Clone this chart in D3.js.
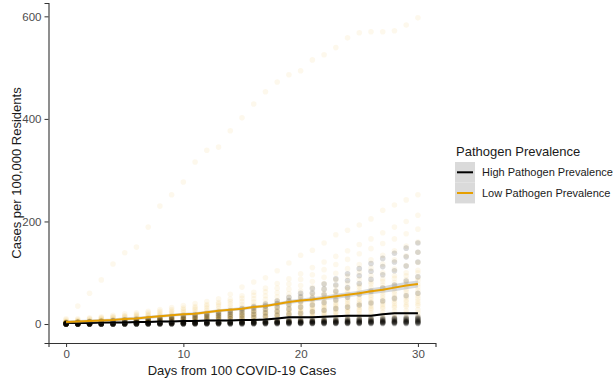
<!DOCTYPE html>
<html>
<head>
<meta charset="utf-8">
<script src="https://cdn.jsdelivr.net/npm/d3@7"></script>
<style>
  html, body { margin: 0; padding: 0; background: #fff; }
  svg { display: block; font-family: "Liberation Sans", Arial, sans-serif; }
</style>
</head>
<body>
<svg id="chart" width="613" height="381"></svg>
<script>
// Days since each county reached 100 COVID-19 cases
const days = d3.range(0, 31);

// Cumulative cases per 100,000 residents, one row per county, low pathogen prevalence
const lowCounties = [
  [10,35,60,86,117,139,150,189,230,252,277,316,339,345,377,402,429,453,472,486,494,515,525,539,558,568,570,570,572,583,597],
  [8,10,12,14,17,20,22,25,28,32,36,40,44,49,58,72,82,90,104,119,134,144,158,174,183,193,205,222,232,242,252],
  [6,8,10,12,14,16,19,22,25,28,31,34,38,42,48,55,62,70,79,88,98,110,121,132,143,155,166,178,189,200,212],
  [5,7,9,11,13,15,17,19,22,25,28,31,35,39,44,50,56,63,70,78,87,96,106,116,126,137,147,157,166,176,185],
  [4,6,7,9,11,13,15,17,19,22,25,28,31,35,39,44,49,55,61,68,75,83,91,99,108,116,125,134,143,152,160],
  [4,5,6,8,9,11,13,15,17,19,22,24,27,30,34,38,43,48,53,59,65,72,79,86,93,101,109,117,125,133,140],
  [3,4,5,7,8,9,11,12,14,16,18,20,23,26,29,33,37,41,46,51,56,62,68,74,80,87,94,100,107,114,120],
  [3,4,5,6,7,8,10,11,13,15,17,19,21,24,27,30,33,37,41,45,50,55,60,65,70,76,82,88,94,100,105],
  [3,4,5,6,7,8,9,11,12,14,16,18,20,22,25,28,31,35,39,43,47,52,57,62,67,72,78,83,89,94,100],
  [2,3,4,5,6,7,8,10,11,13,14,16,18,20,23,26,29,32,36,40,44,48,52,57,61,66,71,76,81,86,90],
  [2,3,4,5,6,7,8,9,10,12,13,15,17,19,21,24,27,30,33,37,41,45,49,53,57,62,66,71,75,80,85],
  [2,3,4,5,6,7,8,9,10,11,13,14,16,18,20,22,25,28,31,34,38,41,45,49,53,57,61,65,70,74,78],
  [2,3,4,4,5,6,7,8,9,10,11,13,14,16,18,20,23,25,28,31,34,38,41,45,48,52,56,60,64,68,72],
  [2,3,3,4,5,6,7,8,9,10,11,12,14,15,17,19,21,24,26,29,32,35,38,41,45,48,52,55,59,63,66],
  [2,2,3,4,5,5,6,7,8,9,10,11,12,14,15,17,19,21,23,26,28,31,34,37,40,43,47,50,53,57,60],
  [2,2,3,4,4,5,6,7,8,8,9,10,12,13,15,16,18,20,22,24,27,29,32,34,37,40,43,46,49,52,55],
  [1,2,3,3,4,4,5,6,7,7,8,9,10,11,13,14,16,18,19,21,24,26,28,31,33,36,39,41,44,47,50],
  [1,2,2,3,4,4,5,6,6,7,8,9,10,11,12,13,15,16,18,20,22,24,26,28,30,33,35,38,40,43,45],
  [1,2,2,3,3,4,4,5,5,6,7,8,8,9,10,11,12,14,15,17,18,20,22,24,26,28,31,33,35,37,40],
  [1,2,2,3,3,4,4,5,5,6,7,7,8,9,10,11,12,13,14,16,17,19,21,22,24,26,28,30,32,34,36],
  [1,1,2,2,3,3,3,4,4,5,5,6,6,7,8,8,9,10,11,12,13,15,16,17,19,20,22,23,25,26,28],
  [1,1,1,2,2,2,3,3,3,4,4,5,5,6,6,7,7,8,9,10,11,12,13,14,15,16,17,18,19,21,22],
  [0,1,1,1,2,2,2,2,3,3,3,4,4,4,5,5,6,6,7,7,8,9,9,10,11,12,12,13,14,15,16],
  [0,0,1,1,1,1,2,2,2,2,3,3,3,3,4,4,4,5,5,5,6,6,7,7,8,8,9,9,10,10,11],
  [0,0,0,1,1,1,1,1,2,2,2,2,2,3,3,3,3,3,4,4,4,4,5,5,5,5,6,6,6,7,7],
  [0,0,0,0,0,1,1,1,1,1,1,1,2,2,2,2,2,2,2,3,3,3,3,3,3,3,4,4,4,4,4]
];

// Same measure, high pathogen prevalence counties
const highCounties = [
  [3,4,5,6,7,8,9,10,12,14,16,18,20,23,26,30,34,39,45,52,60,69,78,88,98,108,118,128,138,148,158],
  [2,3,4,5,6,7,8,9,10,12,14,16,18,20,23,27,31,35,40,46,53,60,68,76,85,94,103,112,121,131,140],
  [2,3,3,4,5,6,7,8,9,10,11,13,15,17,19,22,25,29,33,38,44,50,57,64,71,79,87,96,104,113,121],
  [1,2,2,3,4,4,5,6,7,8,9,10,11,13,15,17,19,22,25,29,33,37,42,47,52,58,64,70,76,84,92],
  [1,1,2,2,3,3,4,4,5,5,6,7,8,9,10,11,13,15,17,19,21,24,27,30,33,37,41,45,50,55,60],
  [1,1,1,2,2,2,3,3,3,4,4,4,5,5,5,6,6,7,7,8,8,9,9,10,10,11,11,12,12,13,14],
  [1,1,1,1,2,2,2,2,3,3,3,4,4,4,5,5,5,6,6,7,7,7,8,8,9,9,10,10,11,11,12],
  [0,1,1,1,1,2,2,2,2,3,3,3,3,4,4,4,5,5,5,6,6,6,7,7,8,8,9,9,10,10,11],
  [0,0,1,1,1,1,2,2,2,2,3,3,3,3,4,4,4,5,5,5,6,6,6,7,7,8,8,8,9,9,10],
  [0,0,1,1,1,1,1,2,2,2,2,3,3,3,3,4,4,4,4,5,5,5,6,6,6,7,7,7,8,8,9],
  [0,0,0,1,1,1,1,1,2,2,2,2,2,3,3,3,3,4,4,4,4,5,5,5,5,6,6,6,7,7,8],
  [0,0,0,0,1,1,1,1,1,2,2,2,2,2,3,3,3,3,3,4,4,4,4,5,5,5,5,6,6,6,7],
  [0,0,0,0,0,1,1,1,1,1,1,2,2,2,2,2,3,3,3,3,3,4,4,4,4,4,5,5,5,5,6],
  [0,0,0,0,0,0,1,1,1,1,1,1,1,2,2,2,2,2,2,3,3,3,3,3,3,4,4,4,4,4,5],
  [0,0,0,0,0,1,1,1,1,1,1,1,2,2,2,2,2,2,3,3,3,3,3,3,4,4,4,4,4,5,5],
  [0,0,0,0,0,0,0,1,1,1,1,1,1,1,1,2,2,2,2,2,2,2,3,3,3,3,3,3,4,4,4],
  [0,0,0,0,0,0,0,0,0,1,1,1,1,1,1,1,1,1,2,2,2,2,2,2,2,2,3,3,3,3,3],
  [0,0,0,0,0,0,0,0,1,1,1,1,1,1,1,1,1,2,2,2,2,2,2,2,2,2,2,3,3,3,3],
  [0,0,0,0,0,0,0,0,0,0,0,1,1,1,1,1,1,1,1,1,1,1,1,2,2,2,2,2,2,2,2],
  [0,0,0,0,0,0,0,0,0,0,0,0,0,0,0,0,1,1,1,1,1,1,1,1,1,1,1,1,1,1,1],
  [0,0,0,0,0,0,0,0,0,0,0,0,0,0,0,0,0,0,0,0,1,1,1,1,1,1,1,1,1,1,1]
];

// Fitted trend per group, with its confidence half-width
const lowTrend  = [4,5,6,7,8,10,11,13,15,17,19,20,23,26,28,30,33,35,39,43,46,48,51,54,57,60,64,67,71,75,78];
const lowBand   = [3,3,3,3,3,3,3,3,3,3,3,3,3,3,3,3,3,3,3,4,4,4,4,5,5,5,6,6,7,7,7];
const highTrend = [2,2,2,3,3,3,4,4,5,5,6,6,7,7,7,8,8,9,11,13,13,13,14,15,16,16,16,19,21,21,21];
const highBand  = [2,2,2,2,2,2,2,2,2,2,2,2,2,2,2,2,2,2,2,2,2,2,2,2,2,2,2,2,2,2,2];

const xTicks = [0, 10, 20, 30];
const yTicks = [0, 200, 400, 600];
const groupNames = ["High Pathogen Prevalence", "Low Pathogen Prevalence"];
const groupColors = ["#000000", "#E69F00"];

const svg = d3.select("#chart");
const x = d3.scaleLinear().domain([-1.5, 31.5]).range([48.5, 435.5]);
const y = d3.scaleLinear().domain([-37, 626]).range([343, 3]);

// Points: one per county per day
function drawPoints(rows, color, opacity) {
  const pts = [];
  rows.forEach(r => r.forEach((v, i) => pts.push({ d: days[i], v })));
  svg.append("g").selectAll("circle").data(pts).join("circle")
    .attr("cx", p => x(p.d)).attr("cy", p => y(p.v)).attr("r", 2.8)
    .attr("fill", color).attr("fill-opacity", opacity);
}
drawPoints(lowCounties, groupColors[1], 0.075);
drawPoints(highCounties, groupColors[0], 0.14);

// Trend ribbons and lines
function drawTrend(trend, band, color) {
  const area = d3.area().x((v, i) => x(days[i]))
    .y0((v, i) => y(v - band[i])).y1((v, i) => y(v + band[i]));
  svg.append("path").datum(trend).attr("d", area)
    .attr("fill", "#9aa3ad").attr("fill-opacity", 0.4);
  const line = d3.line().x((v, i) => x(days[i])).y(v => y(v));
  svg.append("path").datum(trend).attr("d", line)
    .attr("fill", "none").attr("stroke", color).attr("stroke-width", 2);
}
drawTrend(highTrend, highBand, groupColors[0]);
drawTrend(lowTrend, lowBand, groupColors[1]);

// Axes
const xAxis = svg.append("g").attr("transform", "translate(0,343)")
  .call(d3.axisBottom(x).tickValues(xTicks).tickSize(4).tickPadding(3));
const yAxis = svg.append("g").attr("transform", "translate(48.5,0)")
  .call(d3.axisLeft(y).tickValues(yTicks).tickSize(4).tickPadding(3));
[xAxis, yAxis].forEach(a => {
  a.select(".domain").attr("stroke", "#333").attr("stroke-width", 1.1);
  a.selectAll(".tick line").attr("stroke", "#333");
  a.selectAll(".tick text").attr("fill", "#4D4D4D")
    .style("font-size", "11.5px").style("font-family", "'Liberation Sans', Arial, sans-serif");
});

svg.append("text").attr("x", 242).attr("y", 375)
  .attr("text-anchor", "middle").attr("font-size", 13).attr("fill", "#1a1a1a")
  .text("Days from 100 COVID-19 Cases");
svg.append("text").attr("transform", "translate(21,173) rotate(-90)")
  .attr("text-anchor", "middle").attr("font-size", 13).attr("fill", "#1a1a1a")
  .text("Cases per 100,000 Residents");

// Legend
const legend = svg.append("g").attr("transform", "translate(455,0)");
legend.append("text").attr("x", 1).attr("y", 156)
  .attr("font-size", 13).attr("fill", "#1a1a1a").text("Pathogen Prevalence");
groupNames.forEach((name, i) => {
  const top = 162 + i * 20.7;
  legend.append("rect").attr("x", 0).attr("y", top).attr("width", 20).attr("height", 20.7)
    .attr("fill", "#DADADA");
  legend.append("line").attr("x1", 2).attr("x2", 18)
    .attr("y1", top + 10.3).attr("y2", top + 10.3)
    .attr("stroke", groupColors[i]).attr("stroke-width", 2);
  legend.append("text").attr("x", 27).attr("y", top + 14)
    .attr("font-size", 11).attr("fill", "#1a1a1a").text(name);
});
</script>
</body>
</html>
